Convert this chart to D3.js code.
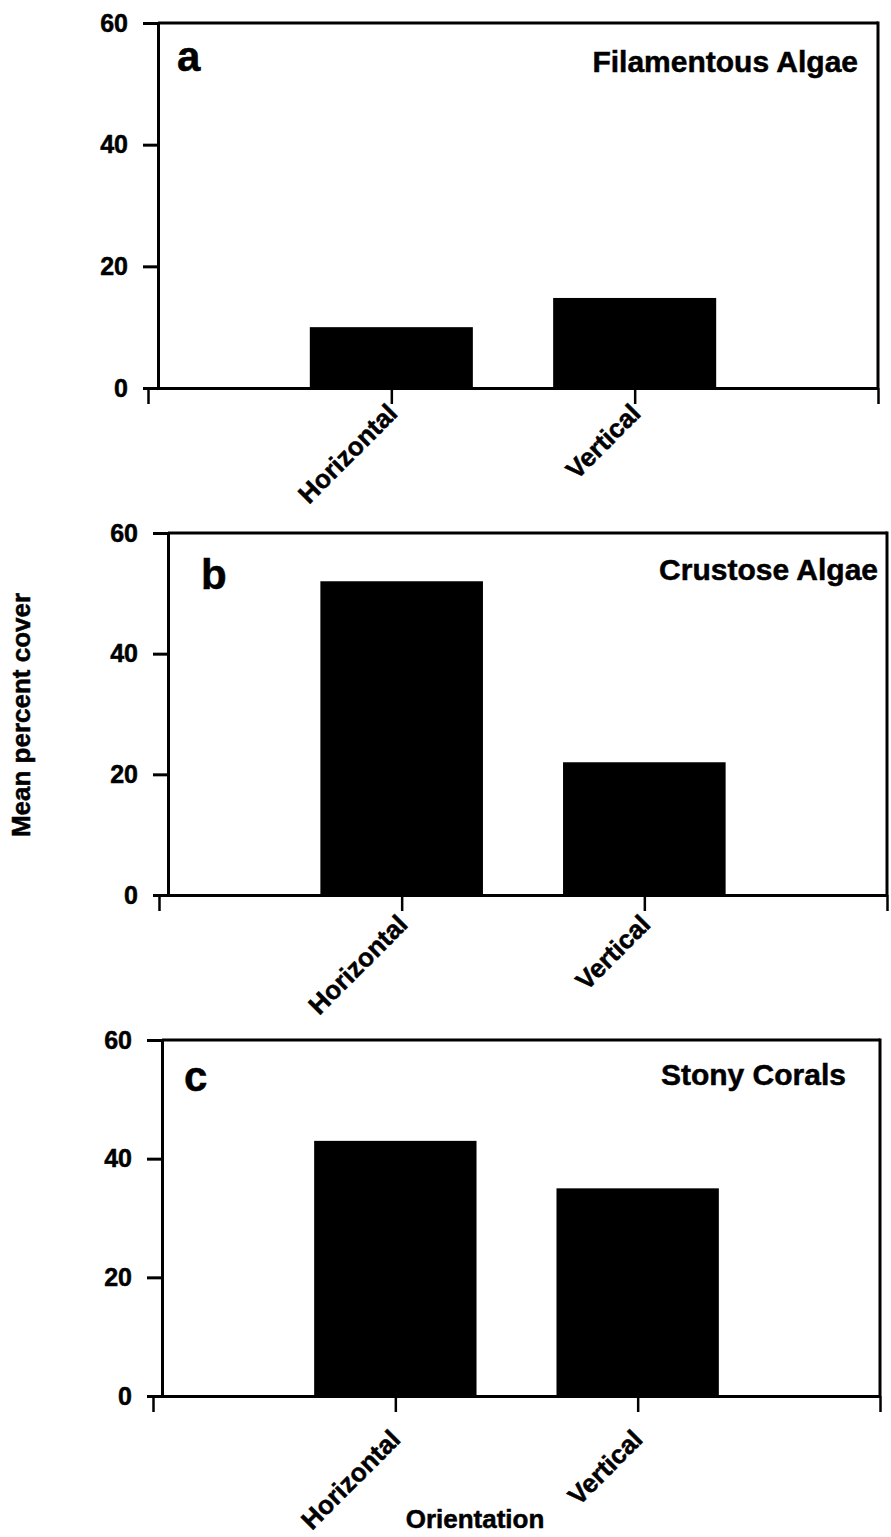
<!DOCTYPE html>
<html>
<head>
<meta charset="utf-8">
<script src="https://cdn.jsdelivr.net/npm/d3@7"></script>
<style>
  html, body { margin: 0; padding: 0; background: #fff; }
  svg { display: block; }
  text { font-family: "Liberation Sans", Arial, Helvetica, sans-serif; font-weight: bold; fill: #000; stroke: #000; stroke-width: 0.5px; }
</style>
</head>
<body>
<svg id="chart" width="891" height="1537"></svg>
<script>
// Mean percent cover by substrate orientation
const categories = ["Horizontal", "Vertical"];
const filamentousAlgae = [10, 14.8];
const crustoseAlgae = [52, 22];
const stonyCorals = [43, 35];
const yTicks = [0, 20, 40, 60];
const panelLetters = ["a", "b", "c"];
const panelTitles = ["Filamentous Algae", "Crustose Algae", "Stony Corals"];
const seriesList = [filamentousAlgae, crustoseAlgae, stonyCorals];

// Panel geometry (pixels)
const layout = [
  { xLeft: 148, xRight: 878, axisX: 158, yTop: 23,   yZero: 388,  letterX: 177, letterY: 71,   titleX: 858, titleY: 72,   labelDx: 7, labelDy: 27 },
  { xLeft: 159, xRight: 887, axisX: 168, yTop: 533,  yZero: 895,  letterX: 201, letterY: 589,  titleX: 878, titleY: 580,  labelDx: 7, labelDy: 31 },
  { xLeft: 153, xRight: 880, axisX: 162, yTop: 1040, yZero: 1396, letterX: 184, letterY: 1091, titleX: 846, titleY: 1085, labelDx: 6, labelDy: 45 }
];

const svg = d3.select("#chart");
const barWidth = 0.67; // in category units

seriesList.forEach((values, p) => {
  const L = layout[p];
  const g = svg.append("g");

  const x = d3.scaleLinear().domain([0, categories.length + 1]).range([L.xLeft, L.xRight]);
  const y = d3.scaleLinear().domain([0, 60]).range([L.yZero, L.yTop]);

  // bars
  g.selectAll("rect.bar")
    .data(values)
    .join("rect")
    .attr("class", "bar")
    .attr("x", (d, i) => x(i + 1 - barWidth / 2))
    .attr("width", (d, i) => x(i + 1 + barWidth / 2) - x(i + 1 - barWidth / 2))
    .attr("y", d => y(d))
    .attr("height", d => y(0) - y(d))
    .attr("fill", "#000");

  // frame: top and right edges
  g.append("line")
    .attr("x1", L.axisX).attr("x2", L.xRight)
    .attr("y1", y(60)).attr("y2", y(60))
    .attr("stroke", "#000").attr("stroke-width", 3);
  g.append("line")
    .attr("x1", L.xRight).attr("x2", L.xRight)
    .attr("y1", y(60) - 1.5).attr("y2", y(0))
    .attr("stroke", "#000").attr("stroke-width", 3);

  // y axis
  const yAxis = g.append("g")
    .attr("transform", `translate(${L.axisX},0)`)
    .call(d3.axisLeft(y).tickValues(yTicks).tickSize(15).tickPadding(15).tickSizeOuter(0));
  yAxis.select(".domain").attr("stroke", "#000").attr("stroke-width", 3);
  yAxis.selectAll(".tick line").attr("stroke", "#000").attr("stroke-width", 3);
  yAxis.selectAll(".tick text")
    .style("font-family", '"Liberation Sans", Arial, sans-serif')
    .style("font-weight", "bold")
    .style("font-size", "25px")
    .attr("fill", "#000");

  // x axis
  const xAxis = g.append("g")
    .attr("transform", `translate(0,${L.yZero})`)
    .call(d3.axisBottom(x)
      .tickValues(d3.range(categories.length + 2))
      .tickFormat(d => categories[d - 1] || "")
      .tickSize(16)
      .tickSizeOuter(0));
  xAxis.select(".domain").attr("stroke", "#000").attr("stroke-width", 3);
  xAxis.selectAll(".tick line").attr("stroke", "#000").attr("stroke-width", 2.5);
  xAxis.selectAll(".tick text")
    .attr("x", 0).attr("y", 0).attr("dy", 0)
    .attr("text-anchor", "end")
    .attr("transform", `translate(${L.labelDx},${L.labelDy}) rotate(-45)`)
    .style("font-family", '"Liberation Sans", Arial, sans-serif')
    .style("font-weight", "bold")
    .style("font-size", "26px")
    .attr("fill", "#000");

  // panel letter and title
  g.append("text")
    .attr("x", L.letterX).attr("y", L.letterY)
    .style("font-size", "42px")
    .text(panelLetters[p]);
  g.append("text")
    .attr("x", L.titleX).attr("y", L.titleY)
    .attr("text-anchor", "end")
    .style("font-size", "30px")
    .text(panelTitles[p]);
});

// shared axis titles
svg.append("text")
  .attr("transform", "translate(30,715) rotate(-90)")
  .attr("text-anchor", "middle")
  .style("font-size", "26px")
  .text("Mean percent cover");

svg.append("text")
  .attr("x", 475).attr("y", 1528)
  .attr("text-anchor", "middle")
  .style("font-size", "26px")
  .text("Orientation");
</script>
</body>
</html>
